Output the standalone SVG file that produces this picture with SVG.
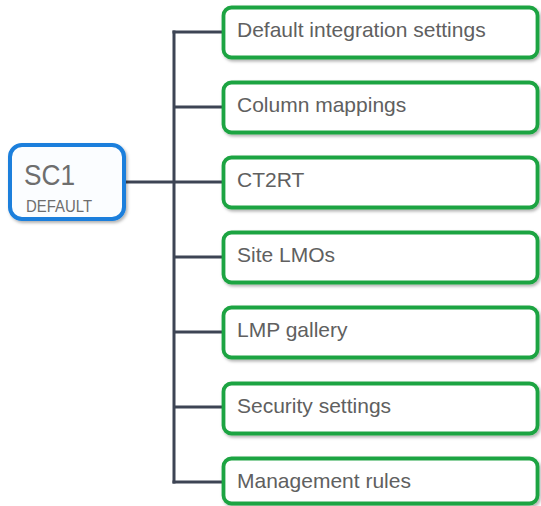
<svg xmlns="http://www.w3.org/2000/svg" width="541" height="506" viewBox="0 0 541 506">
<defs>
<filter id="sh" x="-10%" y="-20%" width="130%" height="150%">
<feDropShadow dx="1.5" dy="2" stdDeviation="1.5" flood-color="#000" flood-opacity="0.3"/>
</filter>
<style>
.box{fill:#ffffff;stroke:#1fa443;stroke-width:3.8;filter:url(#sh)}
.root{fill:#fbfdff;stroke:#1a7fdc;stroke-width:4;filter:url(#sh)}
.lbl{font-family:"Liberation Sans",Arial,sans-serif;font-size:21px;fill:#606060}
.conn{stroke:#3d4454;stroke-width:3;fill:none}
</style>
</defs>
<rect width="541" height="506" fill="#ffffff"/>
<g id="connectors">
<line class="conn" x1="174" y1="30.5" x2="174" y2="483.5"/>
<line class="conn" x1="126" y1="182" x2="223" y2="182"/>
<line class="conn" x1="172.5" y1="32" x2="223" y2="32"/>
<line class="conn" x1="174" y1="107" x2="223" y2="107"/>
<line class="conn" x1="174" y1="257" x2="223" y2="257"/>
<line class="conn" x1="174" y1="332" x2="223" y2="332"/>
<line class="conn" x1="174" y1="407" x2="223" y2="407"/>
<line class="conn" x1="172.5" y1="482" x2="223" y2="482"/>
</g>
<g id="sc1">
<rect class="root" x="10" y="145" width="114" height="74" rx="12"/>
<text x="24" y="185" font-family="'Liberation Sans',Arial,sans-serif" font-size="29" fill="#6e6e6e" textLength="51" lengthAdjust="spacingAndGlyphs">SC1</text>
<text x="26" y="212" font-family="'Liberation Sans',Arial,sans-serif" font-size="16" fill="#6e6e6e" textLength="66" lengthAdjust="spacingAndGlyphs">DEFAULT</text>
</g>
<g id="n1"><rect class="box" x="223.5" y="7.5" width="314" height="50" rx="8"/><text class="lbl" x="237" y="37">Default integration settings</text></g>
<g id="n2"><rect class="box" x="223.5" y="82.5" width="314" height="50" rx="8"/><text class="lbl" x="237" y="112">Column mappings</text></g>
<g id="n3"><rect class="box" x="223.5" y="157.5" width="314" height="50" rx="8"/><text class="lbl" x="237" y="187">CT2RT</text></g>
<g id="n4"><rect class="box" x="223.5" y="232.5" width="314" height="50" rx="8"/><text class="lbl" x="237" y="262">Site LMOs</text></g>
<g id="n5"><rect class="box" x="223.5" y="307.5" width="314" height="50" rx="8"/><text class="lbl" x="237" y="337">LMP gallery</text></g>
<g id="n6"><rect class="box" x="223.5" y="383.5" width="314" height="50" rx="8"/><text class="lbl" x="237" y="413">Security settings</text></g>
<g id="n7"><rect class="box" x="223.5" y="458.5" width="314" height="45" rx="8"/><text class="lbl" x="237" y="488">Management rules</text></g>
</svg>
